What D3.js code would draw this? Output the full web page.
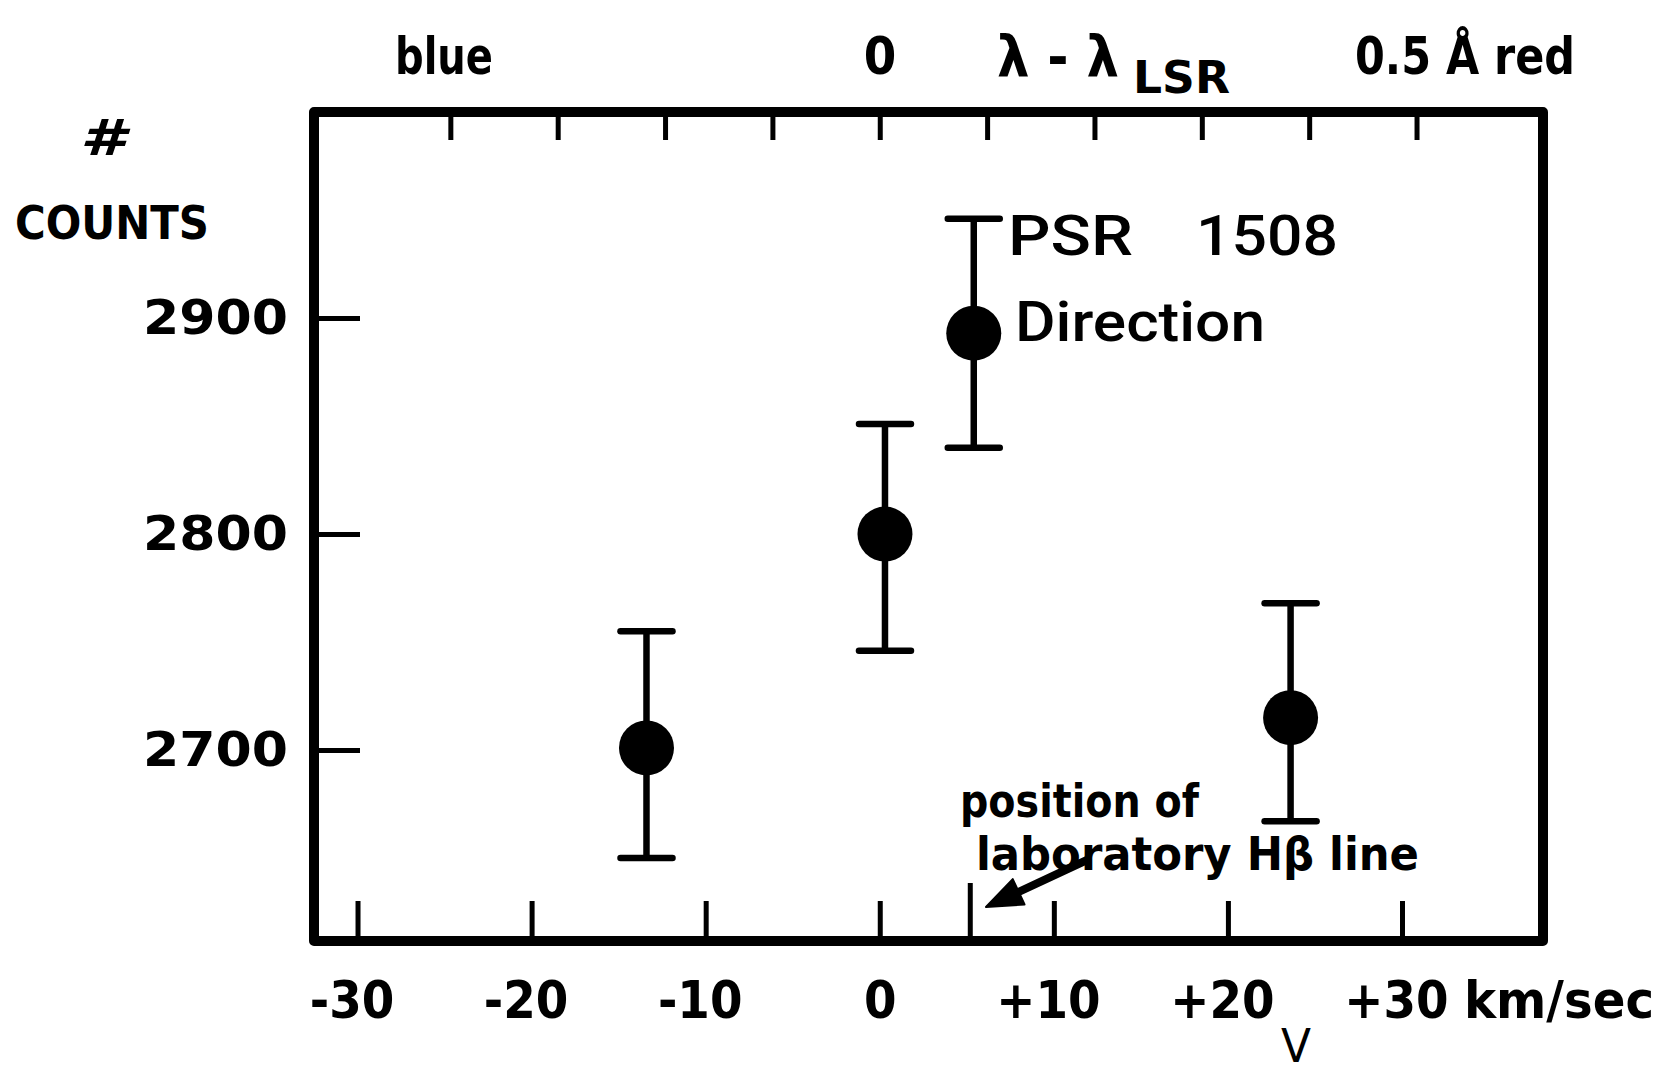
<!DOCTYPE html>
<html>
<head>
<meta charset="utf-8">
<script src="https://cdn.jsdelivr.net/npm/d3@7"></script>
<style>
  html, body { margin: 0; padding: 0; background: #fff; }
  svg { display: block; }
  text { fill: #000; }
</style>
</head>
<body>
<svg id="chart" width="1663" height="1076"></svg>
<script>
// ---- data ----
const velocities = [-13.4, 0.3, 5.4, 23.6];          // km/sec
const counts     = [2701, 2800, 2893, 2715];         // # counts
const errLow     = [2650, 2746, 2840, 2667];
const errHigh    = [2755, 2851, 2946, 2768];
const xTickValues = [-30, -20, -10, 0, 10, 20, 30];
const xTickLabels = ["-30", "-20", "-10", "0", "+10", "+20", "+30"];
const yTickValues = [2700, 2800, 2900];
const yTickLabels = ["2700", "2800", "2900"];
const topTickValues = [-0.4, -0.3, -0.2, -0.1, 0, 0.1, 0.2, 0.3, 0.4, 0.5]; // Å
const hBetaVelocity = 5.2;   // lab Hβ line position, km/sec
const lambda0 = 4861.3;      // Å
const cLight = 299792.458;   // km/sec

// ---- layout ----
const svg = d3.select("#chart");
const plotL = 314, plotR = 1543, plotT = 112, plotB = 941;

const x = d3.scaleLinear().domain([-32.5, 38.1]).range([plotL, plotR]);
const y = d3.scaleLinear().domain([2611.6, 2995.4]).range([plotB, plotT]);
const xTop = d3.scaleLinear()
  .domain(x.domain().map(v => v * lambda0 / cLight))
  .range(x.range());

const condensed = "'DejaVu Sans Condensed', 'Liberation Sans Narrow', 'DejaVu Sans', sans-serif";
const wide = "'DejaVu Sans', 'Liberation Sans', sans-serif";
const medium = "Roboto, 'Noto Sans', 'Open Sans', sans-serif";

// bottom axis (ticks inward)
const gx = svg.append("g").attr("transform", `translate(0,${plotB})`)
  .call(d3.axisBottom(x).tickValues(xTickValues)
    .tickSizeInner(-40).tickSizeOuter(0).tickPadding(40)
    .tickFormat((d, i) => xTickLabels[i]));
gx.select(".domain").remove();
gx.selectAll(".tick line").attr("stroke", "#000").attr("stroke-width", 5);
gx.selectAll(".tick text")
  .attr("font-family", condensed).attr("font-weight", "bold")
  .attr("font-size", 52).attr("dx", (d) => d === 0 ? 0 : -6)
  .attr("fill", "#000");

// left axis
const gy = svg.append("g").attr("transform", `translate(${plotL},0)`)
  .call(d3.axisLeft(y).tickValues(yTickValues)
    .tickSizeInner(-46).tickSizeOuter(0).tickPadding(26)
    .tickFormat((d, i) => yTickLabels[i]));
gy.select(".domain").remove();
gy.selectAll(".tick line").attr("stroke", "#000").attr("stroke-width", 5);
gy.selectAll(".tick text")
  .attr("font-family", wide).attr("font-weight", "bold")
  .attr("font-size", 48).attr("textLength", 145).attr("lengthAdjust", "spacingAndGlyphs")
  .attr("fill", "#000");

// top axis (wavelength, ticks inward, no labels)
const gt = svg.append("g").attr("transform", `translate(0,${plotT})`)
  .call(d3.axisTop(xTop).tickValues(topTickValues)
    .tickSizeInner(-28).tickSizeOuter(0).tickFormat(""));
gt.select(".domain").remove();
gt.selectAll(".tick line").attr("stroke", "#000").attr("stroke-width", 5);

// frame
svg.append("rect")
  .attr("x", plotL).attr("y", plotT)
  .attr("width", plotR - plotL).attr("height", plotB - plotT)
  .attr("fill", "none").attr("stroke", "#000")
  .attr("stroke-width", 10).attr("stroke-linejoin", "round");

// lab H-beta marker tick
svg.append("line")
  .attr("x1", x(hBetaVelocity)).attr("x2", x(hBetaVelocity))
  .attr("y1", plotB).attr("y2", plotB - 58)
  .attr("stroke", "#000").attr("stroke-width", 5);

// error bars + points
const pts = velocities.map((v, i) => ({ v, c: counts[i], lo: errLow[i], hi: errHigh[i] }));
const capHalf = 26;
const gp = svg.append("g");
gp.selectAll("line.err").data(pts).join("line").attr("class", "err")
  .attr("x1", d => x(d.v)).attr("x2", d => x(d.v))
  .attr("y1", d => y(d.lo)).attr("y2", d => y(d.hi))
  .attr("stroke", "#000").attr("stroke-width", 6.5);
gp.selectAll("line.capHi").data(pts).join("line").attr("class", "capHi")
  .attr("x1", d => x(d.v) - capHalf).attr("x2", d => x(d.v) + capHalf)
  .attr("y1", d => y(d.hi)).attr("y2", d => y(d.hi))
  .attr("stroke", "#000").attr("stroke-width", 6.5).attr("stroke-linecap", "round");
gp.selectAll("line.capLo").data(pts).join("line").attr("class", "capLo")
  .attr("x1", d => x(d.v) - capHalf).attr("x2", d => x(d.v) + capHalf)
  .attr("y1", d => y(d.lo)).attr("y2", d => y(d.lo))
  .attr("stroke", "#000").attr("stroke-width", 6.5).attr("stroke-linecap", "round");
gp.selectAll("circle").data(pts).join("circle")
  .attr("cx", d => x(d.v)).attr("cy", d => y(d.c)).attr("r", 27.5)
  .attr("fill", "#000");

// ---- texts ----
function txt(s, px, py, opts = {}) {
  const t = svg.append("text").attr("x", px).attr("y", py)
    .attr("font-family", opts.family || condensed)
    .attr("font-weight", opts.weight || "bold")
    .attr("font-size", opts.size || 50)
    .attr("fill", "#000");
  if (opts.anchor) t.attr("text-anchor", opts.anchor);
  if (opts.len) t.attr("textLength", opts.len).attr("lengthAdjust", "spacingAndGlyphs");
  if (opts.style) t.attr("font-style", opts.style);
  t.text(s);
  return t;
}

// y axis title
txt("#", 80, 155, { family: wide, size: 50, len: 45, style: "italic" });
txt("COUNTS", 15, 239, { family: wide, size: 46, len: 194 });

// top labels
txt("blue", 395, 74, { size: 52, len: 98 });
txt("0", 880, 74, { size: 52, anchor: "middle" });
txt("λ - λ", 997, 76, { size: 56, len: 122 });
txt("LSR", 1133, 93, { size: 44, len: 97 });
txt("0.5 Å red", 1355, 74, { size: 52, len: 220 });

// bottom axis units
txt("km/sec", 1464, 1018, { size: 52, len: 190 });
txt("V", 1296, 1062, { size: 46, anchor: "middle", weight: "normal", len: 30 });

// legend
txt("PSR", 1008, 255, { family: medium, weight: 500, size: 56, len: 125 });
txt("1508", 1196, 255, { family: medium, weight: 500, size: 56, len: 142 });
txt("Direction", 1015, 341, { family: medium, weight: 500, size: 56, len: 250 });

// annotation
txt("position of", 960, 817, { family: wide, size: 46, len: 239 });
txt("laboratory Hβ line", 976, 870, { family: wide, size: 46, len: 443 });

// arrow
const tail = [1087, 860], tip = [986, 907];
const ang = Math.atan2(tip[1] - tail[1], tip[0] - tail[0]);
const hl = 36, hw = 14;
const bx = tip[0] - hl * Math.cos(ang), by = tip[1] - hl * Math.sin(ang);
svg.append("line")
  .attr("x1", tail[0]).attr("y1", tail[1]).attr("x2", bx + 4 * Math.cos(ang)).attr("y2", by + 4 * Math.sin(ang))
  .attr("stroke", "#000").attr("stroke-width", 8).attr("stroke-linecap", "round");
svg.append("path")
  .attr("d", `M${tip[0]},${tip[1]} L${bx + hw * Math.sin(ang)},${by - hw * Math.cos(ang)} L${bx - hw * Math.sin(ang)},${by + hw * Math.cos(ang)} Z`)
  .attr("fill", "#000").attr("stroke", "#000").attr("stroke-width", 2).attr("stroke-linejoin", "round");
</script>
</body>
</html>
